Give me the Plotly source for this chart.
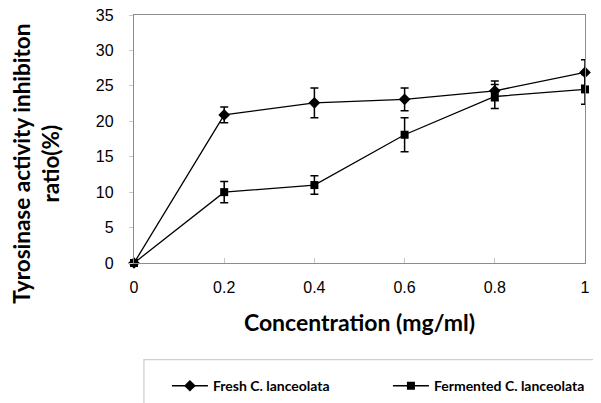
import plotly.graph_objects as go

conc = [0, 0.2, 0.4, 0.6, 0.8, 1.0]
fresh = [0, 20.9, 22.6, 23.1, 24.3, 26.9]
fresh_err = [0, 1.1, 2.1, 1.6, 1.4, 1.8]
ferm = [0, 10.0, 11.0, 18.1, 23.5, 24.5]
ferm_err = [0, 1.5, 1.3, 2.4, 1.7, 2.1]
x_ticks = [0, 0.2, 0.4, 0.6, 0.8, 1]
x_ticklabels = ["0", "0.2", "0.4", "0.6", "0.8", "1"]
y_ticks = [0, 5, 10, 15, 20, 25, 30, 35]

fig = go.Figure()
fig.add_trace(go.Scatter(
    x=conc, y=fresh, name="Fresh C. lanceolata", mode="lines+markers",
    line=dict(color="black", width=1.3),
    marker=dict(symbol="diamond", size=9, color="black"),
    error_y=dict(type="data", array=fresh_err, visible=True, color="black", thickness=1.5, width=4),
    cliponaxis=False,
))
fig.add_trace(go.Scatter(
    x=conc, y=ferm, name="Fermented C. lanceolata", mode="lines+markers",
    line=dict(color="black", width=1.3),
    marker=dict(symbol="square", size=8, color="black"),
    error_y=dict(type="data", array=ferm_err, visible=True, color="black", thickness=1.5, width=4),
    cliponaxis=False,
))

fig.update_layout(
    width=601, height=403,
    margin=dict(l=126, r=24, t=7, b=148, autoexpand=False),
    plot_bgcolor="white", paper_bgcolor="white",
    font=dict(family="Liberation Sans, Arial", color="black"),
    showlegend=True,
    legend=dict(
        orientation="h", x=0.073, y=-0.432, xanchor="left", yanchor="top",
        font=dict(family="Lato", size=14, color="black", weight="bold"),
        itemwidth=36, entrywidth=170,
        bgcolor="rgba(0,0,0,0)",
    ),
    xaxis=dict(
        range=[0, 1], tickvals=x_ticks, ticktext=x_ticklabels,
        showgrid=False, zeroline=False, automargin=False,
        showline=True, linecolor="#8c8c8c", linewidth=1.3, mirror=True,
        ticks="inside", ticklen=5, tickcolor="#c8c8c8",
        tickfont=dict(size=16), ticklabelstandoff=10, ticklabeloverflow="allow",
        title=dict(text="<b>Concentration (mg/ml)</b>", font=dict(family="Lato", size=23), standoff=19),
    ),
    yaxis=dict(
        range=[0, 35], tickvals=y_ticks,
        showgrid=False, zeroline=False, automargin=False,
        showline=True, linecolor="#8c8c8c", linewidth=1.3, mirror=True,
        ticks="outside", ticklen=4, tickcolor="#c8c8c8",
        tickfont=dict(size=16), ticklabelstandoff=12, ticklabeloverflow="allow",
    ),
    shapes=[dict(
        type="rect", xref="paper", yref="paper",
        x0=0.022, x1=1.2, y0=-0.7, y1=-0.39,
        line=dict(color="#d0d0d0", width=1.3), fillcolor="rgba(0,0,0,0)",
    )],
    annotations=[dict(
        text="<b>Tyrosinase activity inhibiton<br>ratio(%)</b>",
        xref="paper", yref="paper", x=(36 - 134) / 451, y=0.40,
        xanchor="center", yanchor="middle", textangle=-90, showarrow=False,
        font=dict(family="Lato", size=22.5, color="black"),
    )],
)

fig.write_html("out.html")
